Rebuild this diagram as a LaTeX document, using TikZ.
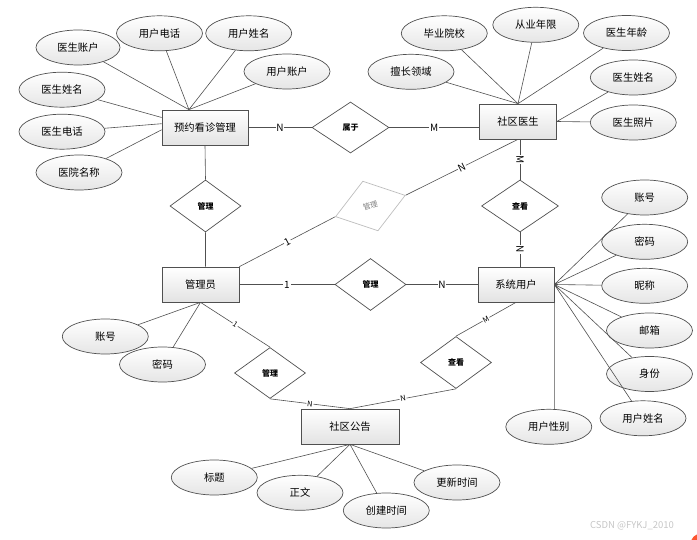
\documentclass[tikz,border=0pt]{standalone}
\usepackage{fontspec}
\setmainfont{Noto Sans CJK SC}
\usepackage{xcolor}
\definecolor{linegray}{RGB}{80,80,80}
\definecolor{palegray}{RGB}{190,190,190}
\definecolor{markorange}{RGB}{252,85,49}
\usepackage{tikz}
\usetikzlibrary{shapes.geometric}
\newcommand{\widthentity}{77pt}
\newcommand{\widthattr}{86pt}
\newcommand{\widthrel}{71pt}
\tikzset{
    common/.style={draw=linegray, line width=0.7pt, inner sep=0pt, font=\fontsize{10.3}{12}\selectfont},
    entity/.style={common, rectangle, minimum height=35pt, minimum width=\widthentity, top color=white, bottom color=gray!22},
    attr/.style={common, ellipse, minimum height=35pt, minimum width=\widthattr, top color=white, bottom color=gray!20},
    rel/.style={common, diamond, minimum height=52pt, minimum width=\widthrel, fill=white, font=\fontsize{8}{9}\selectfont\bfseries},
    link/.style={draw=linegray, line width=0.6pt},
    card/.style={fill=white, inner sep=0.8pt, font=\fontsize{10}{11}\selectfont},
    smallcard/.style={card, font=\fontsize{7.5}{8}\selectfont}
}

\begin{document}
\begin{tikzpicture}[x=1pt, y=-1pt]
      \useasboundingbox (0,0) rectangle (697,540);

      % entities
      \path
          (205,127.5) node[entity, minimum width=86pt] (yuyue) {预约看诊管理}
          (518,121.5) node[entity] (shequ) {社区医生}
          (200.5,284.5) node[entity] (guanli) {管理员}
          (516,284.5) node[entity, minimum width=76pt] (xitong) {系统用户}
          (350,426.5) node[entity, minimum width=98pt] (gonggao) {社区公告};

      % relations
      \path
          (350.5,127.5) node[rel, minimum width=77pt, minimum height=51pt] (shuyu) {属于}
          (205.5,206) node[rel] (rel-yg) {管理}
          (370.4,206) node[rel, draw=palegray, text=gray, rotate=17, minimum width=73pt, font=\fontsize{7.5}{9}\selectfont] (rel-gs) {管理}
          (520,206) node[rel, minimum width=77pt] (rel-sx) {查看}
          (370.5,284.5) node[rel] (rel-gx) {管理}
          (270,373) node[rel, minimum height=51pt] (rel-gg) {管理}
          (456,362.5) node[rel] (rel-xg) {查看};

      % attributes
      \path
          (78,47.5) node[attr, minimum width=84pt] (yy-docacct) {医生账户}
          (159.5,33.3) node[attr] (yy-usertel) {用户电话}
          (248.7,33.3) node[attr] (yy-username) {用户姓名}
          (287,71.5) node[attr] (yy-useracct) {用户账户}
          (62,89.7) node[attr] (yy-docname) {医生姓名}
          (62,131.7) node[attr] (yy-doctel) {医生电话}
          (79,172.5) node[attr] (yy-hospital) {医院名称};

      \path
          (444.3,33.3) node[attr] (sq-school) {毕业院校}
          (535.8,24.8) node[attr] (sq-years) {从业年限}
          (626.5,33) node[attr] (sq-age) {医生年龄}
          (411,71.8) node[attr] (sq-field) {擅长领域}
          (633.3,77.5) node[attr] (sq-name) {医生姓名}
          (633.3,122.5) node[attr] (sq-photo) {医生照片};

      \path
          (644.7,197.5) node[attr] (xt-acct) {账号}
          (644.7,241.8) node[attr] (xt-pwd) {密码}
          (644.7,285.8) node[attr] (xt-nick) {昵称}
          (649.5,330.5) node[attr] (xt-mail) {邮箱}
          (649.5,374) node[attr] (xt-role) {身份}
          (643,418.3) node[attr] (xt-name) {用户姓名}
          (548.8,426.8) node[attr] (xt-gender) {用户性别};

      \path
          (105.3,336.5) node[attr] (gl-acct) {账号}
          (162.5,364.5) node[attr] (gl-pwd) {密码};

      \path
          (214.3,477.5) node[attr] (gg-title) {标题}
          (300,492.8) node[attr] (gg-body) {正文}
          (386.3,510.5) node[attr] (gg-created) {创建时间}
          (457,482.5) node[attr] (gg-updated) {更新时间};

      % attribute links
      \draw[link] (yuyue.132) -- (yy-docacct) (yuyue.132) -- (yy-usertel) (yuyue.132) -- (yy-username) (yuyue.132) -- (yy-useracct);
      \draw[link] (yuyue.167) -- (yy-docname) (yuyue.175) -- (yy-doctel) (yuyue.183) -- (yy-hospital);
      \draw[link] (shequ.north) -- (sq-school) (shequ.north) -- (sq-years) (shequ.north) -- (sq-age) (shequ.north) -- (sq-field);
      \draw[link] (shequ.east) -- (sq-name) (shequ.east) -- (sq-photo);
      \draw[link] (xitong.east) -- (xt-acct) (xitong.east) -- (xt-pwd) (xitong.east) -- (xt-nick) (xitong.east) -- (xt-mail)
          (xitong.east) -- (xt-role) (xitong.east) -- (xt-name) (xitong.east) -- (xitong.east |- xt-gender.north);
      \draw[link] (guanli.south) -- (gl-acct) (guanli.south) -- (gl-pwd);
      \draw[link] (gonggao.south) -- (gg-title) (gonggao.south) -- (gg-body) (gonggao.south) -- (gg-created) (gonggao.south) -- (gg-updated);

      % relation links
      \draw[link] (yuyue.east) -- node[card] {N} (shuyu.west);
      \draw[link] (shuyu.east) -- node[card] {M} (shuyu.east -| shequ.west);
      \draw[link] (yuyue.south) -- (rel-yg.north) (rel-yg.south) -- (rel-yg.south |- guanli.north);
      \draw[link] (rel-sx.north |- shequ.south) -- node[card, sloped] {M} (rel-sx.north);
      \draw[link] (rel-sx.south) -- node[card, sloped] {N} (rel-sx.south |- xitong.north);
      \draw[link] (guanli.north east) -- node[card, sloped] {1} (rel-gs.west);
      \draw[link] (rel-gs.east) -- node[card, sloped] {N} (shequ.south);
      \draw[link] (guanli.east) -- node[card] {1} (rel-gx.west);
      \draw[link] (rel-gx.east) -- node[card] {N} (xitong.west);
      \draw[link] (guanli.south) -- node[smallcard, sloped] {1} (rel-gg.north);
      \draw[link] (rel-gg.south) -- node[smallcard, sloped] {N} (gonggao.north);
      \draw[link] (xitong.south) -- node[smallcard, sloped] {M} (rel-xg.north);
      \draw[link] (rel-xg.south) -- node[smallcard, sloped] {N} (gonggao.north);

      % watermark
      \node[font=\fontsize{9.5}{11}\selectfont, text=gray!45] (mark) at (632,526) {CSDN @FYKJ\_2010};
      \fill[markorange] (700,543) circle (9);
\end{tikzpicture}
\end{document}
